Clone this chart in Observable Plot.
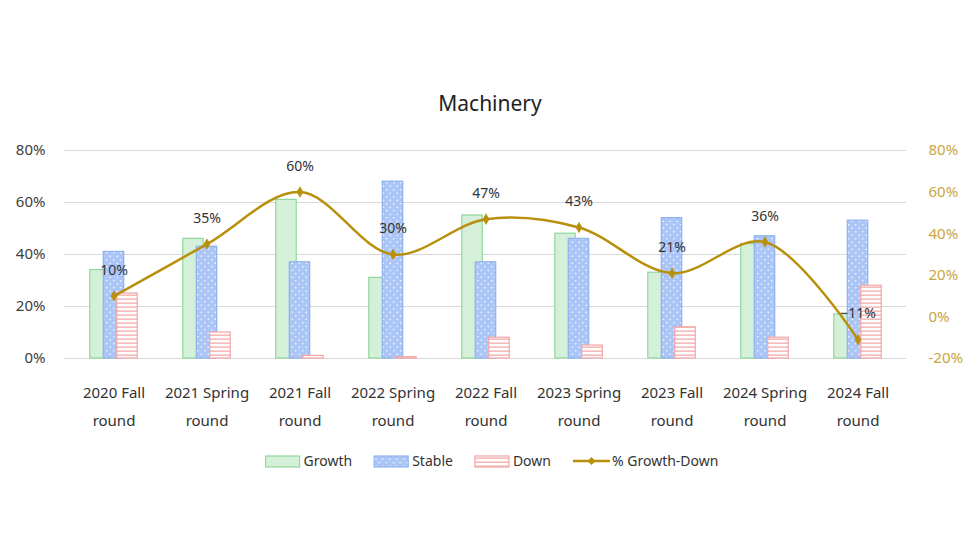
<!DOCTYPE html>
<html><head><meta charset="utf-8">
<script src="https://cdn.jsdelivr.net/npm/d3@7"></script>
<script src="https://cdn.jsdelivr.net/npm/@observablehq/plot@0.6"></script>
<style>
body{margin:0;background:#fff;font-family:"Noto Sans",sans-serif;width:980px;}
#title{height:125px;box-sizing:border-box;padding-top:88px;text-align:center;font-size:21px;line-height:30px;color:#222;}
#chart svg, #legend svg{display:block;}
</style></head><body>
<svg width="0" height="0" style="position:absolute">
  <defs>
    <pattern id="dots" patternUnits="userSpaceOnUse" width="7" height="7">
      <rect width="7" height="7" fill="#abc6f6"></rect>
      <circle cx="1.75" cy="1.75" r="0.75" fill="#ffffff"></circle>
      <circle cx="5.25" cy="5.25" r="0.75" fill="#ffffff"></circle>
    </pattern>
    <pattern id="stripes" patternUnits="userSpaceOnUse" width="8" height="4">
      <rect width="8" height="4" fill="#ffffff"></rect>
      <rect y="1.5" width="8" height="1.3" fill="#f4a9a9"></rect>
    </pattern>
  </defs>
</svg>
<div id="title">Machinery</div>
<div id="chart"></div>
<div id="legend"></div>
<script>
const categories = ["2020 Fall round","2021 Spring round","2021 Fall round","2022 Spring round","2022 Fall round","2023 Spring round","2023 Fall round","2024 Spring round","2024 Fall round"];
const growth = [34, 46, 61, 31, 55, 48, 33, 44, 17];
const stable = [41, 43, 37, 68, 37, 46, 54, 47, 53];
const down = [25, 10, 1, 0.5, 8, 5, 12, 8, 28];
const growthMinusDown = [10, 35, 60, 30, 47, 43, 21, 36, -11];
const seriesNames = ["Growth", "Stable", "Down", "% Growth-Down"];
const leftTicks = [0, 20, 40, 60, 80];
const rightTicks = [-20, 0, 20, 40, 60, 80];

const leftDomain = [0, 80], rightDomain = [-20, 80];
const toLeft = v => (v - rightDomain[0]) * (leftDomain[1] - leftDomain[0]) / (rightDomain[1] - rightDomain[0]) + leftDomain[0];
const fromLeft = v => (v - leftDomain[0]) * (rightDomain[1] - rightDomain[0]) / (leftDomain[1] - leftDomain[0]) + rightDomain[0];

const rows = categories.map((c, i) => ({cat: c, growth: growth[i], stable: stable[i], down: down[i], net: growthMinusDown[i]}));

const W = 980, mL = 64, mR = 74;
const band = (W - mL - mR) / categories.length;
const barW = 21;
const inset = (band - barW) / 2;
const lineColor = "#b8900b";
const fmt = v => (v < 0 ? "\u2212" + Math.abs(v) : v) + "%";

const chart = Plot.plot({
  width: W, height: 315,
  marginTop: 25, marginBottom: 82, marginLeft: mL, marginRight: mR,
  style: {fontFamily: "Noto Sans", fontSize: "15px", color: "#404040", background: "transparent"},
  x: {domain: categories, padding: 0, label: null},
  y: {domain: leftDomain, label: null},
  marks: [
    Plot.gridY(leftTicks, {stroke: "#d9d9d9", strokeOpacity: 1, strokeWidth: 1.2}),
    Plot.axisY(leftTicks, {tickSize: 0, tickPadding: 19, tickFormat: d => d + "%", label: null, fill: "#404040"}),
    Plot.axisY(rightTicks.map(toLeft), {anchor: "right", tickSize: 0, tickPadding: 22, tickFormat: d => Math.round(fromLeft(d)) + "%", label: null, fill: "#c9a640"}),
    Plot.axisX({tickSize: 0, tickPadding: 20, lineHeight: 1.87, tickFormat: d => d.replace(" round", "\nround"), label: null, fill: "#333"}),
    Plot.barY(rows, {x: "cat", y: "growth", fill: "#d4f0d8", stroke: "#8fd89c", strokeWidth: 1.2, insetLeft: inset, insetRight: inset, dx: -13.5}),
    Plot.barY(rows, {x: "cat", y: "stable", fill: "url(#dots)", stroke: "#8fb1ef", strokeWidth: 1.2, insetLeft: inset, insetRight: inset, dx: 0}),
    Plot.barY(rows, {x: "cat", y: "down", fill: "url(#stripes)", stroke: "#f4a5a5", strokeWidth: 1.2, insetLeft: inset, insetRight: inset, dx: 13.5}),
    Plot.line(rows, {x: "cat", y: d => toLeft(d.net), curve: "catmull-rom", stroke: lineColor, strokeWidth: 2.5}),
    Plot.dot(rows, {x: "cat", y: d => toLeft(d.net), symbol: "diamond", r: 3.5, fill: lineColor, stroke: "none"}),
    Plot.text(rows, {x: "cat", y: d => toLeft(d.net), text: d => fmt(d.net), dy: -26, fontSize: 14, fill: "#333"})
  ]
});
document.getElementById("chart").appendChild(chart);

// Legend
const lg = d3.select("#legend").append("svg").attr("width", W).attr("height", 42)
  .style("font-family", "Noto Sans").style("font-size", "14px");
const g = lg.append("g");
const swatches = [
  {name: seriesNames[0], type: "rect", fill: "#d4f0d8", stroke: "#8fd89c"},
  {name: seriesNames[1], type: "rect", fill: "url(#dots)", stroke: "#8fb1ef"},
  {name: seriesNames[2], type: "rect", fill: "url(#stripes)", stroke: "#f4a5a5"},
  {name: seriesNames[3], type: "line"}
];
let x = 0;
const cy = 21;
swatches.forEach((s, i) => {
  if (s.type === "rect") {
    g.append("rect").attr("x", x).attr("y", cy - 5).attr("width", 34).attr("height", 11)
      .attr("fill", s.fill).attr("stroke", s.stroke).attr("stroke-width", 1.2);
  } else {
    g.append("line").attr("x1", x).attr("x2", x + 37).attr("y1", cy).attr("y2", cy)
      .attr("stroke", lineColor).attr("stroke-width", 2.5);
    g.append("path").attr("d", d3.symbol(d3.symbolDiamond2, 40)()).attr("transform", `translate(${x + 18.5},${cy})`).attr("fill", lineColor);
  }
  const tx = x + (s.type === "rect" ? 38 : 39);
  const t = g.append("text").attr("x", tx).attr("y", cy).attr("dy", "0.35em").attr("fill", "#333").text(s.name);
  x = tx + t.node().getComputedTextLength() + 22;
});
const total = x - 22;
g.attr("transform", `translate(${490 - total / 2 + 2},0)`);
</script>
</body></html>
